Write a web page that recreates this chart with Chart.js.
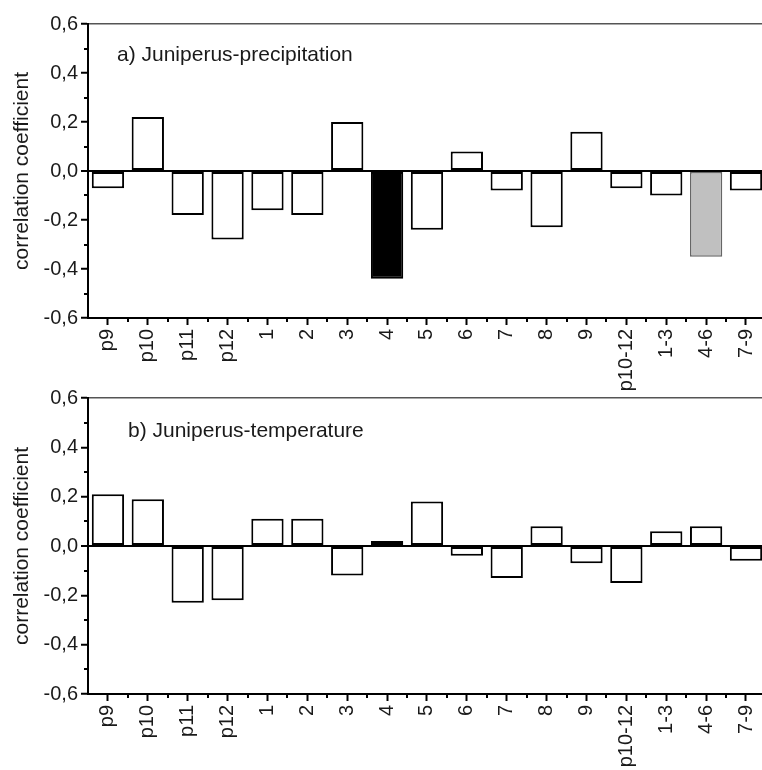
<!DOCTYPE html>
<html>
<head>
<meta charset="utf-8">
<script src="https://cdn.jsdelivr.net/npm/chart.js@4"></script>
<style>
    html, body { margin: 0; padding: 0; background: #fff; overflow: hidden; }
    #wrap { position: relative; width: 762px; height: 770px; overflow: hidden; }
    canvas { position: absolute; left: 0; }
    #precipChart { top: 0; }
    #tempChart { top: 374px; }
</style>
</head>
<body>
<div id="wrap">
    <canvas id="precipChart" width="774" height="400"></canvas>
    <canvas id="tempChart" width="774" height="396"></canvas>
</div>
<script>
// Juniperus climate response (correlation coefficients)
const months = ['p9', 'p10', 'p11', 'p12', '1', '2', '3', '4', '5', '6', '7', '8', '9', 'p10-12', '1-3', '4-6', '7-9'];
const precipCorr = [-0.07, 0.22, -0.18, -0.28, -0.16, -0.18, 0.20, -0.44, -0.24, 0.08, -0.08, -0.23, 0.16, -0.07, -0.10, -0.35, -0.08];
const tempCorr = [0.21, 0.19, -0.23, -0.22, 0.11, 0.11, -0.12, 0.02, 0.18, -0.04, -0.13, 0.08, -0.07, -0.15, 0.06, 0.08, -0.06];
const yMin = -0.6, yMax = 0.6, yStep = 0.2;

const FONT = "'Liberation Sans', Arial, sans-serif";
const TEXT = '#1a1a1a';

// highlighted months per panel (significant ones)
const precipMarks = { '4': 'solid', '4-6': 'shade' };
const tempMarks = {};

function fillFor(marks) {
    return ctx => {
        const m = marks[months[ctx.dataIndex]];
        if (m === 'solid') return '#000';
        if (m === 'shade') return '#c0c0c0';
        return '#fff';
    };
}
function edgeFor(marks) {
    return ctx => marks[months[ctx.dataIndex]] === 'shade' ? '#666' : '#000';
}

// short minor ticks between the major ones
const minorTicks = {
    id: 'minorTicks',
    afterDraw(chart) {
        const { ctx, chartArea, scales: { x, y } } = chart;
        ctx.save();
        ctx.strokeStyle = '#000';
        ctx.lineWidth = 2;
        ctx.beginPath();
        const yt = y.ticks;
        for (let i = 0; i < yt.length - 1; i++) {
            const py = Math.round(y.getPixelForValue((yt[i].value + yt[i + 1].value) / 2));
            ctx.moveTo(chartArea.left - 4, py);
            ctx.lineTo(chartArea.left, py);
        }
        for (let i = 1; i <= months.length; i++) {
            const px = Math.round((x.getPixelForValue(i - 1) + x.getPixelForValue(i)) / 2);
            ctx.moveTo(px, chartArea.bottom);
            ctx.lineTo(px, chartArea.bottom + 4);
        }
        ctx.stroke();
        ctx.restore();
    }
};

// panel caption inside the plot
const panelLabel = {
    id: 'panelLabel',
    afterDraw(chart, args, opts) {
        const { ctx, chartArea } = chart;
        ctx.save();
        ctx.font = '21px ' + FONT;
        ctx.fillStyle = TEXT;
        ctx.textBaseline = 'alphabetic';
        ctx.fillText(opts.text, chartArea.left + opts.dx, chartArea.top + opts.dy);
        ctx.restore();
    }
};

function makeChart(id, values, marks, label, dx, dy, xHeight) {
    return new Chart(document.getElementById(id), {
        type: 'bar',
        data: {
            labels: months,
            datasets: [{
                data: values,
                backgroundColor: fillFor(marks),
                borderColor: edgeFor(marks),
                borderWidth: ctx => marks[months[ctx.dataIndex]] === 'shade' ? 1.5 : 2,
                borderSkipped: false,
                barPercentage: 0.81,
                categoryPercentage: 1.0
            }]
        },
        options: {
            responsive: false,
            animation: false,
            layout: { padding: { top: 24, left: 0, right: 0, bottom: 0 } },
            plugins: {
                legend: { display: false },
                tooltip: { enabled: false },
                panelLabel: { text: label, dx: dx, dy: dy }
            },
            scales: {
                x: {
                    offset: true,
                    grid: { offset: false, drawOnChartArea: false, tickColor: '#000', tickWidth: 2, tickLength: 7 },
                    border: { color: '#000', width: 2 },
                    ticks: {
                        autoSkip: false, minRotation: 90, maxRotation: 90, padding: 4,
                        color: TEXT, font: { family: FONT, size: 20 }
                    },
                    afterFit: s => { s.height = xHeight; }
                },
                y: {
                    min: yMin,
                    max: yMax,
                    grid: {
                        color: c => Math.abs(c.tick.value) < 1e-9 ? '#000' : (c.tick.value > yMax - 1e-9 ? '#555' : 'rgba(0,0,0,0)'),
                        lineWidth: c => Math.abs(c.tick.value) < 1e-9 ? 2 : 1.5,
                        tickColor: '#000', tickWidth: 2, tickLength: 7
                    },
                    border: { color: '#000', width: 2 },
                    ticks: {
                        stepSize: yStep, padding: 3, color: TEXT,
                        font: { family: FONT, size: 20 },
                        callback: v => (Math.abs(v) < 1e-9 ? 0 : v).toFixed(1).replace('.', ',')
                    },
                    title: {
                        display: true, text: 'correlation coefficient', color: TEXT,
                        font: { family: FONT, size: 21 }, padding: { top: 10, bottom: 0 }
                    },
                    afterFit: s => { s.width = 88; }
                }
            }
        },
        plugins: [minorTicks, panelLabel]
    });
}

makeChart('precipChart', precipCorr, precipMarks, 'a) Juniperus-precipitation', 29, 37, 82);
makeChart('tempChart', tempCorr, tempMarks, 'b) Juniperus-temperature', 40, 39, 76);
</script>
</body>
</html>
